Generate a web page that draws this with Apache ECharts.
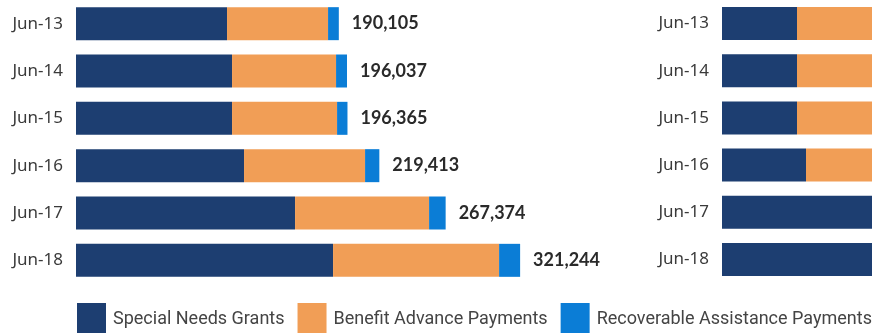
<!DOCTYPE html>
<html>
<head>
<meta charset="utf-8">
<script src="https://cdn.jsdelivr.net/npm/echarts@6/dist/echarts.min.js"></script>
<style>html,body{margin:0;padding:0;background:#fff}#c{width:872px;height:333px}</style>
</head>
<body>
<div id="c"></div>
<script>
// Categories (top to bottom)
var categories = ['Jun-13', 'Jun-14', 'Jun-15', 'Jun-16', 'Jun-17', 'Jun-18'];
var seriesNames = ['Special Needs Grants', 'Benefit Advance Payments', 'Recoverable Assistance Payments'];

// Left panel: number of grants (totals 190,105 ... 321,244)
var leftSpecialNeeds = [109250, 112870, 112870, 121550, 158450, 185940];
var leftBenefitAdvance = [73070, 75240, 75970, 87540, 96950, 120100];
var leftRecoverable = [7785, 7927, 7525, 10323, 11974, 15204];

// Right panel (cut off at the picture's edge)
var rightSpecialNeeds = [75, 75, 75, 84, 190, 215];
var rightBenefitAdvance = [80, 85, 85, 90, 60, 70];
var rightRecoverable = [8, 8, 8, 10, 12, 15];

var colors = ['#1d3e71', '#f19e56', '#0b7dd6'];

function rev(a) { return a.slice().reverse(); }
var cats = rev(categories);

var leftTotals = categories.map(function (c, i) {
  return leftSpecialNeeds[i] + leftBenefitAdvance[i] + leftRecoverable[i];
});
var leftTotalsRev = rev(leftTotals);

var axisLabelStyle = { color: '#3a3a3a', fontSize: 17, fontFamily: 'Noto Sans', margin: 13 };

var chart = echarts.init(document.getElementById('c'));
chart.setOption({
  animation: false,
  color: colors,
  textStyle: { fontFamily: 'Noto Sans' },
  grid: [
    { left: 76, top: 0, height: 284, width: 553, containLabel: false },
    { left: 722, top: -2, height: 285, right: 0, containLabel: false }
  ],
  xAxis: [
    { gridIndex: 0, type: 'value', min: 0, max: 400000, show: false },
    { gridIndex: 1, type: 'value', min: 0, max: 150, show: false }
  ],
  yAxis: [
    { gridIndex: 0, type: 'category', data: cats, axisLine: { show: false }, axisTick: { show: false }, axisLabel: axisLabelStyle },
    { gridIndex: 1, type: 'category', data: cats, axisLine: { show: false }, axisTick: { show: false }, axisLabel: axisLabelStyle }
  ],
  legend: {
    left: 77,
    top: 303,
    width: 900,
    padding: 0,
    icon: 'rect',
    itemWidth: 29,
    itemHeight: 32,
    itemGap: 13,
    textStyle: { color: '#444', fontSize: 18, fontFamily: 'Roboto', padding: [0, 0, 0, 2] },
    data: seriesNames
  },
  series: [
    { name: seriesNames[0], type: 'bar', stack: 'l', xAxisIndex: 0, yAxisIndex: 0, barWidth: 33, data: rev(leftSpecialNeeds) },
    { name: seriesNames[1], type: 'bar', stack: 'l', xAxisIndex: 0, yAxisIndex: 0, barWidth: 33, data: rev(leftBenefitAdvance) },
    { name: seriesNames[2], type: 'bar', stack: 'l', xAxisIndex: 0, yAxisIndex: 0, barWidth: 33, data: rev(leftRecoverable),
      label: {
        show: true, position: 'right', distance: 13,
        color: '#2a2a2a', fontSize: 18, fontWeight: 'bold', fontFamily: 'Lato',
        formatter: function (p) { return leftTotalsRev[p.dataIndex].toLocaleString('en-US'); }
      }
    },
    { name: seriesNames[0], type: 'bar', stack: 'r', xAxisIndex: 1, yAxisIndex: 1, barWidth: 33, data: rev(rightSpecialNeeds) },
    { name: seriesNames[1], type: 'bar', stack: 'r', xAxisIndex: 1, yAxisIndex: 1, barWidth: 33, data: rev(rightBenefitAdvance) },
    { name: seriesNames[2], type: 'bar', stack: 'r', xAxisIndex: 1, yAxisIndex: 1, barWidth: 33, data: rev(rightRecoverable) }
  ]
});
</script>
</body>
</html>
